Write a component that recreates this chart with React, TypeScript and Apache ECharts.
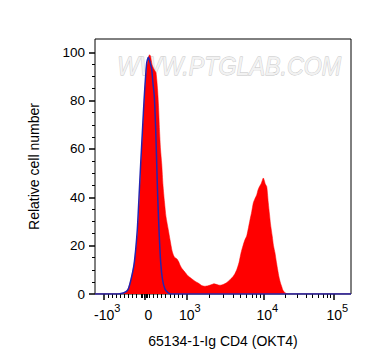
import React, { useEffect, useRef } from "react";
import * as echarts from "echarts";

// Display-scale positions (biexponential display channel, 0 = value 0)
const redX = [-50, -24, -20, -17, -14, -11, -9, -7.3, -5.5, -4, -2.2, -0.5, 1.5, 3, 4.5, 5.5, 7, 9, 11, 12.5, 13.5, 14.5, 15.5, 16.7, 18, 19.5, 21, 23.3, 25, 27, 28.5, 30, 32, 33.5, 35, 37, 40, 43, 46.7, 50, 53.3, 56.7, 60, 63, 66, 69, 72, 75, 78, 81, 85, 88, 90, 91.7, 94, 96, 98, 100, 101.7, 103.5, 105, 106.7, 108.3, 110, 111.7, 113, 114.5, 116, 117.3, 118.3, 119.3, 120.3, 121.7, 122.5, 123.3, 124.5, 125.5, 127.3, 128.5, 130, 131.5, 132.7, 134, 135.5, 136.7, 138, 140, 142, 145, 206];
const redY = [0, 0, 0.5, 2, 6, 12, 19, 26.6, 40, 54, 68, 81.8, 93, 97, 99, 98.5, 95, 93, 91.5, 85, 78, 68, 60, 54, 45, 38, 32, 26.6, 22.5, 18, 16, 15, 14.5, 13.5, 12, 10.5, 9, 7.5, 6.3, 5.3, 4.5, 3.5, 3.2, 3.4, 3.8, 4.2, 3.9, 3.6, 3.9, 4.5, 5.9, 7.2, 8.5, 10, 13, 17, 20, 22.5, 24, 27.5, 30.7, 34, 37.7, 39.5, 41, 43, 44.5, 45.5, 47, 48, 47, 45.5, 44.5, 41.5, 37.7, 33, 29, 23.8, 20, 17, 13, 10, 7, 4.5, 3.1, 1.5, 0.5, 0.1, 0, 0];

const blueX = [-50, -27, -21, -17, -14, -10.7, -7.7, -6, -4.3, -2.5, -0.7, 1.7, 3.3, 5, 6.7, 8, 9.3, 10.7, 11.7, 12.7, 14, 15.7, 17.5, 20, 23, 26, 206];
const blueY = [0, 0, 0.5, 1.8, 6, 13, 26.6, 40, 54, 68, 81.8, 95.6, 98, 96, 93, 87, 81.8, 68, 54, 40.4, 26.6, 13, 6, 2, 0.6, 0, 0];

const majorTickValues = [-1000, 0, 1000, 10000, 100000];
const majorTickLabels = ["{n|-10}{s|3}", "{n|0}", "{n|10}{s|3}", "{n|10}{s|4}", "{n|10}{s|5}"];
const minorTickValues = [
  -900, -800, -700, -600, -500, -400, -300, -200, -100, -60, -30,
  30, 60, 100, 200, 300, 400, 500, 600, 700, 800, 900,
  2000, 3000, 4000, 5000, 6000, 7000, 8000, 9000,
  20000, 30000, 40000, 50000, 60000, 70000, 80000, 90000,
];
const yMajorTicks = [0, 20, 40, 60, 80, 100];
const yMinorTicks = [5, 10, 15, 25, 30, 35, 45, 50, 55, 65, 70, 75, 85, 90, 95];

const xTitle = "65134-1-Ig CD4 (OKT4)";
const yTitle = "Relative cell number";
const watermark = "WWW.PTGLAB.COM";

// biexponential-like display transform used for the axis ticks
function toDisplay(v: number): number {
  const a = Math.abs(v);
  const s = Math.sign(v);
  if (a <= 1000) return v * 0.0413;
  if (a <= 10000) return s * (41.3 + 77.5 * Math.log10(a / 1000));
  return s * (118.8 + 70 * Math.log10(a / 10000));
}

const FONT = "Liberation Sans, Arial, sans-serif";

export default function App() {
  const ref = useRef<HTMLDivElement>(null);
  useEffect(() => {
    if (!ref.current) return;
    const chart = echarts.init(ref.current, undefined, { renderer: "svg" });
    const majorPos = majorTickValues.map(toDisplay);
    const minorPos = minorTickValues.map(toDisplay);
    const xMin = -50;
    const xMax = 206;
    const yMax = 105.5;
    chart.setOption({
      animation: false,
      backgroundColor: "#fff",
      grid: {
        left: 95,
        top: 39,
        width: 256,
        height: 255,
        show: true,
        borderColor: "#000",
        borderWidth: 1,
      },
      graphic: [
        {
          type: "text",
          left: 117,
          top: 53,
          z: 0,
          scaleX: 0.93,
          style: {
            text: watermark,
            font: "italic 25px " + FONT,
            fill: "#f2f2f2",
            stroke: "#c4c4c4",
            lineWidth: 0.8,
          },
        },
      ],
      xAxis: [
        {
          type: "value",
          min: xMin,
          max: xMax,
          position: "bottom",
          axisLine: { show: false, onZero: false },
          splitLine: { show: false },
          axisTick: {
            show: true,
            customValues: majorPos,
            length: 6,
            lineStyle: { color: "#000", width: 1.5 },
          },
          axisLabel: {
            show: true,
            customValues: majorPos,
            margin: 8,
            padding: [0, 0, 0, 7],
            formatter: (v: number) => {
              let best = 0;
              for (let i = 0; i < majorPos.length; i++) {
                if (Math.abs(majorPos[i] - v) < Math.abs(majorPos[best] - v)) best = i;
              }
              return majorTickLabels[best];
            },
            rich: {
              n: { fontSize: 14, fontFamily: FONT, color: "#000", lineHeight: 20, verticalAlign: "bottom" },
              s: { fontSize: 11, fontFamily: FONT, color: "#000", lineHeight: 12, verticalAlign: "top" },
            },
          },
          name: xTitle,
          nameLocation: "middle",
          nameGap: 40,
          nameTextStyle: { fontSize: 14, fontFamily: FONT, color: "#000" },
        },
        {
          type: "value",
          min: xMin,
          max: xMax,
          position: "bottom",
          axisLine: { show: false, onZero: false },
          splitLine: { show: false },
          axisLabel: { show: false },
          axisTick: {
            show: true,
            customValues: minorPos,
            length: 4,
            lineStyle: { color: "#000", width: 1 },
          },
        },
      ],
      yAxis: [
        {
          type: "value",
          min: 0,
          max: yMax,
          position: "left",
          axisLine: { show: false, onZero: false },
          splitLine: { show: false },
          axisTick: {
            show: true,
            customValues: yMajorTicks,
            length: 6,
            lineStyle: { color: "#000", width: 1.5 },
          },
          axisLabel: {
            show: true,
            customValues: yMajorTicks,
            margin: 10,
            fontSize: 13.5,
            fontFamily: FONT,
            color: "#000",
          },
          name: yTitle,
          nameLocation: "middle",
          nameGap: 54,
          nameTextStyle: { fontSize: 14, fontFamily: FONT, color: "#000" },
        },
        {
          type: "value",
          min: 0,
          max: yMax,
          position: "left",
          axisLine: { show: false, onZero: false },
          splitLine: { show: false },
          axisLabel: { show: false },
          axisTick: {
            show: true,
            customValues: yMinorTicks,
            length: 3,
            lineStyle: { color: "#000", width: 1 },
          },
        },
      ],
      series: [
        {
          type: "line",
          xAxisIndex: 0,
          yAxisIndex: 0,
          data: redX.map((x, i) => [x, redY[i]]),
          showSymbol: false,
          smooth: 0.2,
          lineStyle: { width: 0.5, color: "#ff0000" },
          areaStyle: { color: "#ff0000", opacity: 1 },
          z: 3,
        },
        {
          type: "line",
          xAxisIndex: 0,
          yAxisIndex: 0,
          data: blueX.map((x, i) => [x, blueY[i]]),
          showSymbol: false,
          smooth: 0.2,
          lineStyle: { width: 1.5, color: "#2424b0" },
          z: 4,
        },
      ],
    });
    return () => chart.dispose();
  }, []);
  return (
    <div
      ref={ref}
      style={{ position: "fixed", left: 0, top: 0, width: 372, height: 364, background: "#fff" }}
    />
  );
}
